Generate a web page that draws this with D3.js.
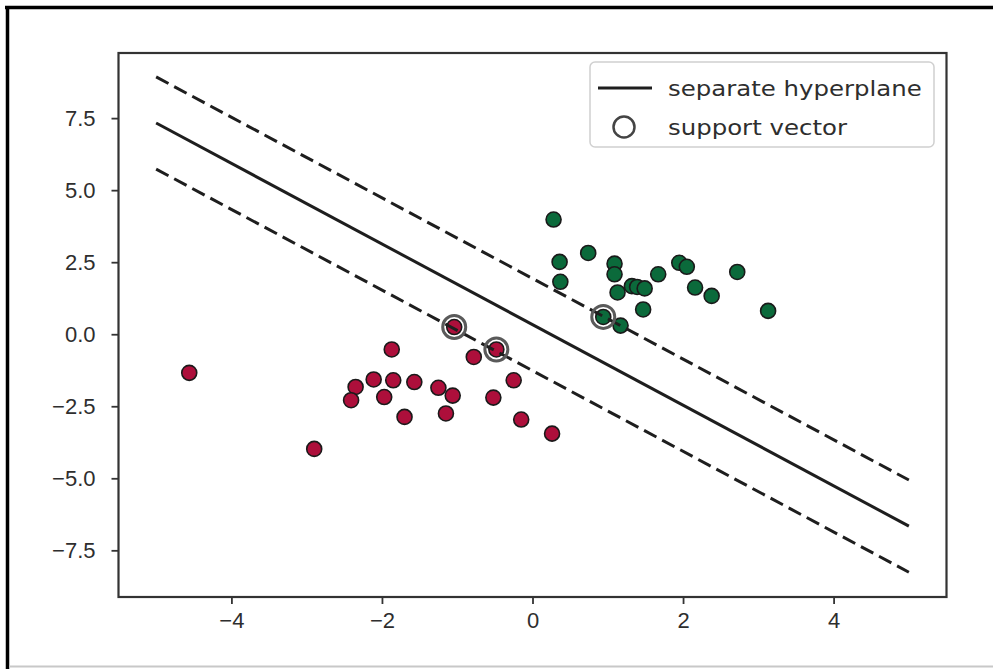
<!DOCTYPE html>
<html>
<head>
<meta charset="utf-8">
<script src="https://cdn.jsdelivr.net/npm/d3@7"></script>
<style>
  body { margin: 0; background: #fff; }
  svg { display: block; font-family: "DejaVu Sans", sans-serif; }
  .axis text { font-size: 22px; fill: #2e2e2e; }
  .axis path, .axis line { stroke: #333; }
</style>
</head>
<body>
<div id="svg-container"></div>
<script>
// ticks
const xTicks = [-4, -2, 0, 2, 4];
const yTicks = [-7.5, -5.0, -2.5, 0.0, 2.5, 5.0, 7.5];

// class 1 (red)
const redX = [-4.56, -2.90, -1.87, -2.35, -2.41, -2.11, -1.85, -1.97, -1.57, -1.70, -1.25, -1.06, -1.15, -1.04, -0.78, -0.48, -0.25, -0.52, -0.15, 0.26];
const redY = [-1.34, -3.98, -0.53, -1.83, -2.29, -1.57, -1.60, -2.18, -1.66, -2.87, -1.86, -2.13, -2.75, 0.25, -0.79, -0.53, -1.60, -2.20, -2.96, -3.45];

// class 2 (green)
const greenX = [0.28, 0.36, 0.37, 0.74, 1.09, 1.09, 1.13, 1.32, 1.39, 1.49, 1.47, 1.67, 1.95, 2.05, 2.16, 2.38, 2.72, 3.13, 0.94, 1.17];
const greenY = [3.98, 2.51, 1.82, 2.82, 2.45, 2.08, 1.45, 1.67, 1.64, 1.59, 0.86, 2.08, 2.48, 2.34, 1.62, 1.33, 2.16, 0.81, 0.60, 0.30];

// support vectors
const svX = [-1.04, -0.48, 0.94];
const svY = [0.25, -0.53, 0.60];

// hyperplane + margins (x=-5 .. x=5)
const lineX = [-5, 5];
const hyperY = [7.33, -6.66];
const upperY = [8.93, -5.06];
const lowerY = [5.73, -8.26];

const legendLabels = ["separate hyperplane", "support vector"];

////////////////////////////////////////////////////////////////////
const width = 993, height = 669;
const plot = { left: 118.5, right: 946.5, top: 53, bottom: 597 };

const svg = d3.select("#svg-container").append("svg")
  .attr("width", width).attr("height", height);

// outer frame of the screenshot
svg.append("line").attr("x1", 5).attr("x2", width).attr("y1", 7.5).attr("y2", 7.5)
  .attr("stroke", "#000").attr("stroke-width", 3.5);
svg.append("line").attr("x1", 7.5).attr("x2", 7.5).attr("y1", 6).attr("y2", height)
  .attr("stroke", "#000").attr("stroke-width", 3.5);
svg.append("line").attr("x1", 9).attr("x2", width).attr("y1", 666.5).attr("y2", 666.5)
  .attr("stroke", "#c8c8c8").attr("stroke-width", 2);

const xScale = d3.scaleLinear().domain([-5.5, 5.5]).range([plot.left, plot.right]);
const yScale = d3.scaleLinear().domain([-9.12, 9.76]).range([plot.bottom, plot.top]);

const minus = (s) => s.replace("-", "\u2212");

const xAxis = d3.axisBottom(xScale).tickValues(xTicks).tickSize(7).tickPadding(8)
  .tickFormat((d) => minus(d3.format("d")(d))).tickSizeOuter(0);
const yAxis = d3.axisLeft(yScale).tickValues(yTicks).tickSize(7).tickPadding(16)
  .tickFormat((d) => minus(d3.format(".1f")(d))).tickSizeOuter(0);

svg.append("g").attr("class", "axis x-axis")
  .attr("transform", `translate(0,${plot.bottom})`)
  .call(xAxis)
  .call((g) => g.select(".domain").remove())
  .call((g) => g.selectAll("line").attr("stroke-width", 1.8));

svg.append("g").attr("class", "axis y-axis")
  .attr("transform", `translate(${plot.left},0)`)
  .call(yAxis)
  .call((g) => g.select(".domain").remove())
  .call((g) => g.selectAll("line").attr("stroke-width", 1.8));

// points
const pts = (xs, ys) => xs.map((x, i) => ({ x: x, y: ys[i] }));

svg.append("g").selectAll("circle").data(pts(redX, redY)).join("circle")
  .attr("cx", (d) => xScale(d.x)).attr("cy", (d) => yScale(d.y)).attr("r", 7.5)
  .attr("fill", "#ad0f3b").attr("stroke", "#1a1a1a").attr("stroke-width", 1.6);

svg.append("g").selectAll("circle").data(pts(greenX, greenY)).join("circle")
  .attr("cx", (d) => xScale(d.x)).attr("cy", (d) => yScale(d.y)).attr("r", 7.5)
  .attr("fill", "#0b6a3b").attr("stroke", "#1a1a1a").attr("stroke-width", 1.6);

// lines
const line = d3.line().x((d) => xScale(d.x)).y((d) => yScale(d.y));

svg.append("path").datum(pts(lineX, hyperY)).attr("d", line)
  .attr("fill", "none").attr("stroke", "#1e1e1e").attr("stroke-width", 3);
[upperY, lowerY].forEach((ys) => {
  svg.append("path").datum(pts(lineX, ys)).attr("d", line)
    .attr("fill", "none").attr("stroke", "#1e1e1e").attr("stroke-width", 3)
    .attr("stroke-dasharray", "14,6.5");
});

// support vectors
svg.append("g").selectAll("circle").data(pts(svX, svY)).join("circle")
  .attr("cx", (d) => xScale(d.x)).attr("cy", (d) => yScale(d.y)).attr("r", 11.5)
  .attr("fill", "none").attr("stroke", "#5a5a5a").attr("stroke-width", 3);

// plot frame
svg.append("rect")
  .attr("x", plot.left).attr("y", plot.top)
  .attr("width", plot.right - plot.left).attr("height", plot.bottom - plot.top)
  .attr("fill", "none").attr("stroke", "#333").attr("stroke-width", 2.2);

// legend
const legend = svg.append("g").attr("transform", "translate(590,62)");
legend.append("rect").attr("width", 344).attr("height", 85).attr("rx", 5)
  .attr("fill", "#fff").attr("fill-opacity", 0.8)
  .attr("stroke", "#d0d0d0").attr("stroke-width", 1.5);
legend.append("line").attr("x1", 8).attr("x2", 62).attr("y1", 26).attr("y2", 26)
  .attr("stroke", "#1e1e1e").attr("stroke-width", 3);
legend.append("circle").attr("cx", 34).attr("cy", 65).attr("r", 10.5)
  .attr("fill", "none").attr("stroke", "#444").attr("stroke-width", 2.5);
legend.append("g").attr("transform", "translate(78,0) scale(1.11,1)")
  .selectAll("text").data(legendLabels).join("text")
  .attr("x", 0).attr("y", (d, i) => 34 + i * 39)
  .attr("font-size", 22).attr("fill", "#2e2e2e")
  .text((d) => d);
</script>
</body>
</html>
